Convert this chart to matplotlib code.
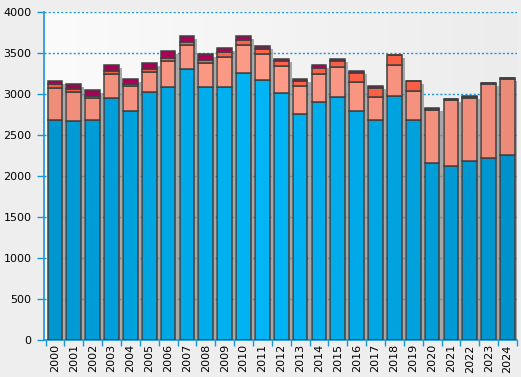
import numpy as np
import matplotlib.pyplot as plt
import matplotlib.patheffects as pe
from matplotlib.colors import to_rgb

years = [str(y) for y in range(2000, 2025)]

# stacked cumulative tops
blue_top = [2683, 2671, 2683, 2951, 2793, 3024, 3085, 3305, 3085, 3085, 3256, 3171, 3012,
            2756, 2902, 2963, 2793, 2683, 2976, 2683, 2159, 2122, 2183, 2220, 2256]
salmon_top = [3073, 3024, 2951, 3244, 3098, 3268, 3402, 3598, 3378, 3451, 3598, 3488, 3341,
              3098, 3244, 3329, 3146, 2963, 3354, 3037, 2805, 2927, 2951, 3122, 3183]
orange_top = [3122, 3061, 2976, 3280, 3122, 3305, 3439, 3634, 3415, 3512, 3659, 3549, 3402,
              3159, 3317, 3402, 3256, 3073, 3476, 3159, 2817, 2934, 2962, 3130, 3191]
crimson_top = [3162, 3122, 3049, 3354, 3183, 3378, 3524, 3707, 3488, 3561, 3707, 3585, 3427,
               3183, 3354, 3427, 3280, 3098, 3476, 3159, 2829, 2942, 2976, 3138, 3200]

s1 = np.array(blue_top)
s2 = np.array(salmon_top) - s1
s3 = np.array(orange_top) - np.array(salmon_top)
s4 = np.array(crimson_top) - np.array(orange_top)

def shade(base, edge, n):
    # lighter in the middle of the chart, a bit darker at both ends
    b, e = np.array(to_rgb(base)), np.array(to_rgb(edge))
    out = []
    for i in range(n):
        t = abs(i - n * 0.45) / (n * 0.55)
        out.append(tuple(b * (1 - t) + e * t))
    return out

n = len(years)
x = np.arange(n)
blues = shade('#00b6f7', '#0090c8', n)
salmons = shade('#ff9c88', '#ec8a78', n)
oranges = shade('#ff6448', '#f05a40', n)
crimsons = shade('#b0005a', '#a00052', n)

fig = plt.figure(figsize=(5.21, 3.77), dpi=100, facecolor='#eeeeee')
ax = fig.add_axes([44 / 521, 37 / 377, 473 / 521, 328 / 377])

# background gradient of the plot area: near white on the left, light grey on the right
c0, c1 = np.array(to_rgb('#fbfbfb')), np.array(to_rgb('#ececec'))
t = np.linspace(0, 1, 256)[None, :, None]
img = np.repeat(c0 * (1 - t) + c1 * t, 4, axis=0)
ax.imshow(img, extent=(-0.58, 24.5, 0, 4000), aspect='auto', zorder=0, origin='lower')

w = 0.78
ec = '#404040'
lw = 1.1
shadow = ax.bar(x, crimson_top, w, color='none', edgecolor='none', zorder=1)
for p in shadow:
    p.set_path_effects([pe.SimplePatchShadow(offset=(2.2, -2.2), shadow_rgbFace='#888888', alpha=0.7)])
ax.bar(x, s1, w, color=blues, edgecolor=ec, linewidth=lw, zorder=3)
ax.bar(x, s2, w, bottom=s1, color=salmons, edgecolor=ec, linewidth=lw, zorder=3)
ax.bar(x, s3, w, bottom=s1 + s2, color=oranges, edgecolor=ec, linewidth=lw, zorder=3)
ax.bar(x, s4, w, bottom=s1 + s2 + s3, color=crimsons, edgecolor=ec, linewidth=lw, zorder=3)

ax.set_xlim(-0.58, 24.5)
ax.set_ylim(0, 4000)
ax.set_yticks(np.arange(0, 4001, 500))
ax.yaxis.grid(True, color='#1a96d6', linestyle=(0, (1.5, 1.5)), linewidth=1.0, zorder=0.5)
ax.set_axisbelow(True)

ax.set_xticks(x)
ax.set_xticklabels(years, rotation=90, fontsize=8)
ax.set_xticks(np.arange(-0.5, n, 1), minor=True)
ax.tick_params(axis='x', which='major', length=0, pad=3)
ax.tick_params(axis='x', which='minor', length=4, color='#1a96d6', width=1)
ax.tick_params(axis='y', length=5, color='#1a96d6', width=1, labelsize=8, pad=4)

for side in ['top', 'right']:
    ax.spines[side].set_visible(False)
for side in ['left', 'bottom']:
    ax.spines[side].set_color('#1a96d6')
    ax.spines[side].set_linewidth(1.2)

plt.savefig('out.png', dpi=100, facecolor=fig.get_facecolor())
